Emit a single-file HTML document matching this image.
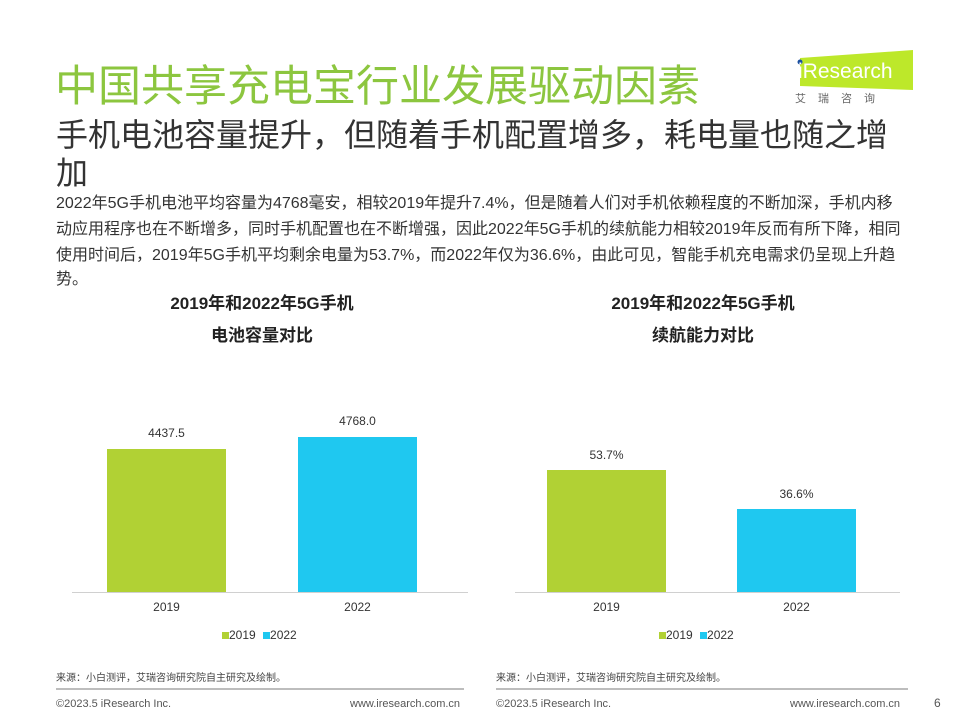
<!DOCTYPE html>
<html><head><meta charset="utf-8"><style>
body{margin:0;width:960px;height:720px;background:#fff;position:relative;overflow:hidden;font-family:"Liberation Sans","Noto Sans CJK SC",sans-serif;color:#333}
.a{position:absolute;white-space:nowrap}
.bar{position:absolute}
.g{background:#b1d134}.b{background:#1fc8f0}
.ax{position:absolute;height:1px;background:#d0d0d0;top:592px}
.sep{position:absolute;height:2px;background:#bdbdbd;top:688px}
.bl{position:absolute;left:56px;font-size:16px;transform-origin:0 0;transform:scaleX(1.0);white-space:nowrap;color:#333}
</style></head><body>
<div class="a" style="left:55px;top:52px;font-size:43px;color:#8cc63f">中国共享充电宝行业发展驱动因素</div>
<div class="a" style="left:788px;top:50px;width:120px;height:36px">
<svg width="125" height="40"><polygon points="12,8 125,0 125,40 12,36" fill="#bde82a"/><circle cx="12" cy="12" r="2.5" fill="#1b4fa0"/><text x="10" y="28" font-size="21" fill="#fff" font-family="Liberation Sans">iResearch</text></svg></div>
<div class="a" style="left:795px;top:90px;font-size:11px;color:#666;letter-spacing:12px">艾瑞咨询</div>
<div class="a" style="left:56px;top:116px;font-size:32px;color:#333;line-height:38px">手机电池容量提升，但随着手机配置增多，耗电量也随之增<br>加</div>
<div class="bl" style="top:189px">2022年5G手机电池平均容量为4768毫安，相较2019年提升7.4%，但是随着人们对手机依赖程度的不断加深，手机内移</div>
<div class="bl" style="top:215px">动应用程序也在不断增多，同时手机配置也在不断增强，因此2022年5G手机的续航能力相较2019年反而有所下降，相同</div>
<div class="bl" style="top:241px">使用时间后，2019年5G手机平均剩余电量为53.7%，而2022年仅为36.6%，由此可见，智能手机充电需求仍呈现上升趋</div>
<div class="bl" style="top:265px">势。</div>

<div class="a" style="left:142px;top:288px;width:240px;text-align:center;font-size:17px;font-weight:bold;line-height:32px;color:#222">2019年和2022年5G手机<br>电池容量对比</div>
<div class="a" style="left:583px;top:288px;width:240px;text-align:center;font-size:17px;font-weight:bold;line-height:32px;color:#222">2019年和2022年5G手机<br>续航能力对比</div>

<div class="ax" style="left:72px;width:396px"></div>
<div class="bar g" style="left:107px;top:449px;width:119px;height:143px"></div>
<div class="bar b" style="left:298px;top:437px;width:119px;height:155px"></div>
<div class="a" style="left:107px;width:119px;text-align:center;top:426px;font-size:12px">4437.5</div>
<div class="a" style="left:298px;width:119px;text-align:center;top:414px;font-size:12px">4768.0</div>
<div class="a" style="left:107px;width:119px;text-align:center;top:600px;font-size:12px">2019</div>
<div class="a" style="left:298px;width:119px;text-align:center;top:600px;font-size:12px">2022</div>
<div class="a" style="left:222px;top:628px;font-size:12px"><span style="display:inline-block;width:7px;height:7px;background:#b1d134"></span>2019 <span style="display:inline-block;width:7px;height:7px;background:#1fc8f0;margin-left:4px"></span>2022</div>

<div class="ax" style="left:515px;width:385px"></div>
<div class="bar g" style="left:547px;top:470px;width:119px;height:122px"></div>
<div class="bar b" style="left:737px;top:509px;width:119px;height:83px"></div>
<div class="a" style="left:547px;width:119px;text-align:center;top:448px;font-size:12px">53.7%</div>
<div class="a" style="left:737px;width:119px;text-align:center;top:487px;font-size:12px">36.6%</div>
<div class="a" style="left:547px;width:119px;text-align:center;top:600px;font-size:12px">2019</div>
<div class="a" style="left:737px;width:119px;text-align:center;top:600px;font-size:12px">2022</div>
<div class="a" style="left:659px;top:628px;font-size:12px"><span style="display:inline-block;width:7px;height:7px;background:#b1d134"></span>2019 <span style="display:inline-block;width:7px;height:7px;background:#1fc8f0;margin-left:4px"></span>2022</div>

<div class="a" style="left:56px;top:669px;font-size:10px;color:#444">来源：小白测评，艾瑞咨询研究院自主研究及绘制。</div>
<div class="a" style="left:496px;top:669px;font-size:10px;color:#444">来源：小白测评，艾瑞咨询研究院自主研究及绘制。</div>
<div class="sep" style="left:56px;width:408px"></div>
<div class="sep" style="left:496px;width:412px"></div>
<div class="a" style="left:56px;top:698px;font-size:11px;color:#555">©2023.5 iResearch Inc.</div>
<div class="a" style="left:350px;top:698px;font-size:11px;color:#555">www.iresearch.com.cn</div>
<div class="a" style="left:496px;top:698px;font-size:11px;color:#555">©2023.5 iResearch Inc.</div>
<div class="a" style="left:790px;top:698px;font-size:11px;color:#555">www.iresearch.com.cn</div>
<div class="a" style="left:934px;top:696px;font-size:12px;color:#555">6</div>
</body></html>
